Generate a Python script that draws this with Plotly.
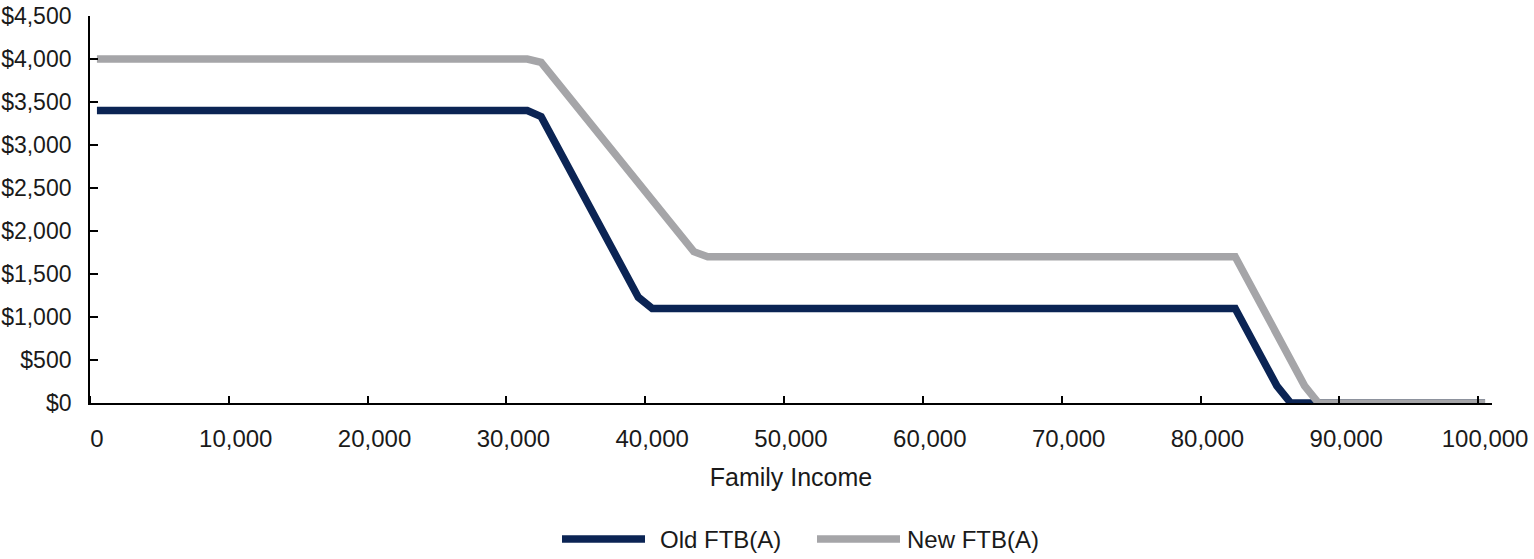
import plotly.graph_objects as go

# breakpoints (family income -> payment)
income_old = [0, 31000, 32000, 39000, 40000, 82000, 85000, 86000, 100000]
ftb_old = [3400, 3400, 3330, 1230, 1100, 1100, 200, 0, 0]

income_new = [0, 31000, 32000, 43000, 44000, 82000, 87000, 88000, 100000]
ftb_new = [4000, 4000, 3960, 1760, 1700, 1700, 200, 0, 0]

x_ticks = list(range(0, 100001, 10000))
x_labels = ["{:,}".format(v) for v in x_ticks]

series_names = ["Old FTB(A)", "New FTB(A)"]
NAVY = "#0b2454"
GREY = "#a5a5a8"
FONT = "Arial, Liberation Sans, sans-serif"
TXT = "#1a1a1a"

fig = go.Figure()
fig.add_trace(go.Scatter(x=income_old, y=ftb_old, mode="lines", name=series_names[0],
                         line=dict(color=NAVY, width=7.5), showlegend=False))
fig.add_trace(go.Scatter(x=income_new, y=ftb_new, mode="lines", name=series_names[1],
                         line=dict(color=GREY, width=7.5), showlegend=False))

fig.update_xaxes(
  range=[-500, 100500], tickvals=x_ticks, ticktext=x_labels, ticks="",
  minor=dict(tick0=-500, dtick=10000, ticks="inside", ticklen=7, tickwidth=1.5, tickcolor="black"),
  showline=True, linecolor="black", linewidth=1.8, showgrid=False, zeroline=False,
  ticklabelstandoff=13, tickfont=dict(size=24),
  title=dict(text="Family Income", standoff=18, font=dict(size=25)),
)
fig.update_yaxes(
  range=[0, 4500], dtick=500, tickprefix="$", tickformat=",",
  ticks="inside", ticklen=8, tickwidth=1.5, tickcolor="black",
  showline=True, linecolor="black", linewidth=1.8, showgrid=False, zeroline=False,
  ticklabelstandoff=12, tickfont=dict(size=23),
)

# hand-made legend so the line samples match the long Excel swatches
def px_x(p):
  return (p - 90) / 1402.0

def px_y(p):
  return (403 - p) / 387.0

leg_y = px_y(539)
for name, color, x0, x1, tx in [(series_names[0], NAVY, 562, 645, 658),
                               (series_names[1], GREY, 817, 900, 905)]:
  fig.add_shape(type="line", xref="paper", yref="paper", x0=px_x(x0), x1=px_x(x1),
                y0=leg_y, y1=leg_y, line=dict(color=color, width=7.5))
  fig.add_annotation(text=name, xref="paper", yref="paper", x=px_x(tx), y=leg_y,
                     xanchor="left", yanchor="middle", showarrow=False,
                     font=dict(size=24, family=FONT, color=TXT))

fig.update_layout(
  width=1534, height=559,
  margin=dict(l=90, r=42, t=16, b=156, autoexpand=False),
  paper_bgcolor="white", plot_bgcolor="white",
  font=dict(family=FONT, size=23, color=TXT),
  showlegend=False,
)

# drop the browser's default 8px page margin so the figure sits at 0,0
fig.write_html("out.html", config={"displayModeBar": False},
               post_script="document.body.style.margin='0';")
